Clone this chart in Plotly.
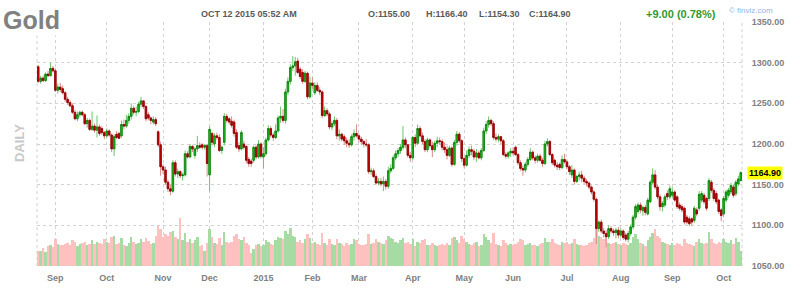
import numpy as np
import pandas as pd
import plotly.graph_objects as go

# ---------------- data ----------------
holidays = ["2014-09-01", "2014-11-27", "2014-12-25", "2015-01-01", "2015-01-19",
            "2015-02-16", "2015-04-03", "2015-05-25", "2015-07-03", "2015-09-07"]
days = pd.bdate_range("2014-08-21", "2015-10-12")
days = days[~days.isin(pd.to_datetime(holidays))]

opens = [
    1295,1277,1281,1278,1286,1284,1293,1290,1266,1270,
    1268,1263,1255,1251,1247,1239,1231,1236,1239,1236,
    1225,1229,1218,1222,1217,1221,1219,1214,1210,1216,
    1211,1194,1212,1213,1210,1224,1222,1229,1234,1244,
    1239,1240,1249,1253,1246,1236,1232,1227,1230,1215,
    1199,1172,1168,1153,1145,1142,1177,1163,1166,1161,
    1162,1188,1184,1197,1186,1194,1198,1199,1196,1198,
    1162,1213,1200,1210,1208,1192,1202,1234,1231,1228,
    1227,1214,1198,1194,1200,1197,1181,1179,1180,1196,
    1184,1200,1184,1188,1205,1219,1211,1208,1216,1232,
    1234,1229,1264,1277,1294,1296,1302,1292,1288,1277,
    1287,1258,1275,1263,1272,1266,1264,1235,1241,1237,
    1221,1225,1229,1210,1212,1209,1204,1201,1199,1209,
    1213,1210,1206,1203,1200,1199,1166,1167,1160,1152,
    1154,1151,1154,1148,1167,1170,1183,1188,1192,1196,
    1205,1199,1186,1183,1208,1201,1219,1210,1203,1193,
    1205,1198,1193,1201,1204,1203,1196,1193,1186,1195,
    1175,1202,1212,1204,1182,1174,1186,1193,1191,1184,
    1189,1183,1192,1216,1224,1229,1225,1208,1206,1209,
    1204,1187,1185,1189,1191,1196,1187,1177,1170,1168,
    1175,1181,1190,1183,1180,1185,1180,1176,1200,1203,
    1187,1180,1174,1175,1171,1181,1178,1172,1162,1168,
    1154,1160,1162,1158,1154,1152,1147,1141,1132,1096,
    1104,1093,1090,1086,1096,1093,1091,1094,1088,1093,
    1088,1083,1090,1098,1110,1117,1125,1118,1122,1114,
    1129,1153,1162,1147,1135,1123,1125,1139,1135,1137,
    1141,1135,1125,1123,1121,1110,1108,1108,1106,1119,
    1121,1131,1137,1133,1133,1153,1143,1139,1131,1119,
    1114,1131,1137,1141,1147,1139,1151,1155.0,
]
highs = [
    1297,1284,1284,1288,1290,1300,1296,1293,1274,1275,
    1272,1265,1258,1254,1250,1242,1240,1241,1241,1238,
    1232,1231,1240,1225,1235,1224,1222,1216,1219,1218,
    1213,1212,1216,1215,1229,1230,1236,1238,1250,1247,
    1246,1252,1258,1254,1248,1239,1234,1234,1233,1217,
    1203,1175,1172,1156,1150,1180,1180,1170,1168,1165,
    1192,1191,1200,1199,1196,1210,1202,1201,1200,1200,
    1222,1215,1213,1214,1212,1198,1238,1237,1233,1234,
    1230,1218,1202,1217,1204,1199,1184,1182,1198,1199,
    1205,1202,1196,1208,1223,1222,1214,1224,1235,1246,
    1243,1268,1282,1298,1308,1307,1306,1295,1292,1290,
    1289,1283,1282,1276,1276,1270,1266,1246,1244,1239,
    1228,1234,1232,1218,1214,1212,1208,1206,1212,1218,
    1224,1213,1209,1205,1206,1201,1171,1170,1163,1158,
    1158,1160,1157,1172,1175,1186,1192,1195,1200,1222,
    1208,1200,1190,1210,1212,1224,1222,1214,1206,1208,
    1207,1203,1204,1209,1208,1206,1202,1198,1198,1197,
    1205,1216,1215,1206,1184,1192,1197,1198,1194,1194,
    1192,1195,1220,1228,1234,1231,1228,1213,1212,1210,
    1206,1190,1191,1195,1196,1198,1189,1180,1174,1178,
    1184,1195,1192,1186,1188,1188,1183,1204,1207,1205,
    1189,1182,1178,1177,1186,1188,1181,1174,1174,1170,
    1162,1166,1167,1161,1157,1154,1149,1143,1134,1106,
    1107,1097,1094,1100,1099,1096,1097,1098,1096,1095,
    1091,1093,1101,1113,1126,1128,1128,1124,1125,1134,
    1156,1170,1168,1150,1138,1130,1138,1143,1149,1147,
    1143,1137,1128,1126,1123,1113,1111,1110,1124,1122,
    1142,1142,1140,1135,1158,1156,1146,1142,1133,1121,
    1136,1144,1146,1152,1150,1156,1161,1166.4,
]
lows = [
    1275,1274,1276,1276,1282,1283,1288,1264,1262,1264,
    1261,1252,1248,1245,1237,1229,1228,1233,1234,1223,
    1220,1216,1216,1214,1208,1210,1211,1206,1208,1209,
    1190,1185,1206,1206,1208,1218,1220,1225,1230,1236,
    1234,1238,1245,1243,1228,1229,1224,1224,1222,1196,
    1161,1163,1150,1141,1137,1140,1160,1158,1158,1155,
    1160,1182,1183,1190,1182,1190,1194,1193,1193,1160,
    1142,1198,1196,1205,1190,1188,1198,1226,1224,1220,
    1209,1194,1190,1192,1193,1176,1172,1172,1177,1181,
    1182,1182,1170,1185,1203,1208,1204,1206,1214,1226,
    1226,1225,1260,1273,1290,1284,1286,1280,1274,1275,
    1255,1256,1268,1260,1264,1260,1232,1233,1234,1218,
    1217,1222,1206,1204,1203,1199,1196,1195,1197,1204,
    1208,1202,1199,1196,1196,1163,1162,1158,1150,1149,
    1148,1142,1144,1145,1164,1168,1180,1184,1188,1193,
    1195,1183,1178,1180,1196,1199,1208,1200,1190,1190,
    1195,1184,1190,1196,1199,1192,1189,1181,1184,1172,
    1173,1198,1201,1178,1170,1172,1183,1186,1180,1178,
    1181,1180,1190,1212,1220,1222,1205,1203,1202,1200,
    1185,1182,1182,1184,1186,1185,1174,1167,1161,1165,
    1172,1179,1180,1176,1177,1178,1172,1174,1197,1185,
    1174,1171,1168,1168,1169,1176,1169,1162,1158,1150,
    1152,1155,1153,1151,1148,1144,1138,1129,1077,1092,
    1090,1085,1073,1083,1090,1087,1084,1084,1085,1082,
    1080,1079,1087,1095,1107,1114,1115,1112,1112,1112,
    1127,1150,1144,1132,1118,1117,1122,1131,1132,1134,
    1129,1120,1118,1116,1101,1101,1099,1100,1103,1111,
    1118,1128,1126,1118,1130,1140,1130,1126,1114,1105,
    1110,1128,1134,1138,1134,1136,1148,1154.3,
]
closes = [
    1277,1281,1278,1286,1284,1293,1290,1266,1270,1267,
    1263,1255,1251,1247,1239,1231,1236,1239,1236,1225,
    1229,1218,1222,1217,1221,1213,1214,1210,1216,1211,
    1194,1209,1208,1207,1224,1222,1229,1234,1244,1239,
    1240,1249,1253,1246,1231,1232,1229,1230,1225,1199,
    1172,1168,1153,1145,1142,1177,1163,1166,1161,1162,
    1188,1184,1197,1194,1194,1198,1196,1196,1198,1176,
    1218,1202,1210,1208,1192,1196,1234,1229,1227,1223,
    1213,1196,1194,1214,1196,1180,1176,1176,1196,1184,
    1200,1185,1188,1205,1219,1211,1208,1216,1232,1234,
    1229,1264,1277,1294,1296,1301,1288,1283,1277,1287,
    1258,1275,1272,1272,1266,1264,1235,1241,1237,1221,
    1225,1229,1210,1212,1206,1204,1201,1199,1209,1213,
    1210,1206,1203,1200,1199,1166,1167,1160,1152,1154,
    1151,1154,1148,1167,1170,1183,1188,1192,1196,1205,
    1199,1186,1183,1208,1201,1219,1210,1203,1193,1205,
    1198,1193,1201,1204,1203,1196,1193,1186,1195,1175,
    1202,1212,1204,1182,1174,1186,1193,1191,1184,1189,
    1183,1192,1216,1224,1229,1225,1208,1206,1209,1204,
    1187,1185,1189,1191,1189,1187,1177,1170,1168,1175,
    1181,1190,1183,1180,1185,1180,1176,1200,1203,1187,
    1177,1174,1172,1171,1181,1178,1172,1166,1168,1154,
    1160,1162,1158,1154,1152,1147,1141,1132,1096,1104,
    1093,1090,1086,1096,1093,1091,1094,1088,1093,1085,
    1083,1090,1098,1110,1123,1125,1119,1122,1116,1131,
    1153,1162,1147,1135,1123,1127,1135,1135,1145,1141,
    1131,1123,1121,1119,1104,1104,1102,1104,1121,1114,
    1138,1139,1129,1121,1155,1143,1133,1129,1117,1112,
    1133,1141,1143,1149,1137,1153,1157,1164.9,
]
volumes = [
    60,62,75,58,80,85,78,110,92,88,
    85,90,95,88,105,98,82,90,95,100,
    88,92,105,90,100,95,90,110,98,96,
    120,125,92,95,115,88,80,95,120,100,
    92,96,110,98,115,102,90,95,125,165,
    150,120,130,125,140,145,120,110,195,105,
    135,100,110,95,105,120,80,85,60,95,
    150,120,95,90,115,85,140,100,95,98,
    125,130,110,105,120,95,85,55,70,85,
    90,80,85,105,100,92,85,105,120,115,
    110,145,130,155,125,120,100,105,95,110,
    130,115,95,100,90,85,135,95,88,110,
    90,85,110,95,90,80,95,88,92,110,
    105,90,85,88,92,130,90,95,110,100,
    95,90,105,125,115,110,100,95,105,115,
    95,100,90,110,80,100,95,105,110,88,
    85,95,88,80,85,90,85,95,88,115,
    120,105,95,125,110,100,90,85,95,100,
    80,85,130,120,105,95,135,90,85,80,
    105,95,88,90,85,92,100,110,105,85,
    90,95,88,85,80,90,95,115,100,100,
    110,95,90,85,100,95,100,92,95,110,
    90,85,88,80,85,95,100,115,150,125,
    120,110,130,95,90,95,100,90,85,95,
    90,85,95,120,130,110,95,90,80,105,
    120,135,150,125,115,100,95,90,85,95,
    85,95,90,80,110,95,90,85,80,100,
    110,95,90,95,140,110,95,90,100,95,
    110,100,95,105,90,115,100,60,
]

title = "Gold"
stamp = "OCT 12 2015 05:52 AM"
quote_open, quote_high, quote_low, quote_close = 1155.00, 1166.40, 1154.30, 1164.90
change, change_pct = 9.00, 0.78
price_ticks = [1050, 1100, 1150, 1200, 1250, 1300, 1350]

# ---------------- derived ----------------
n = len(closes)
days = days[:n]
x = np.arange(n)
o = np.array(opens, float)
h = np.array(highs, float)
l = np.array(lows, float)
c = np.array(closes, float)
up = c >= o
body_hi = np.maximum(o, c)
body_lo = np.minimum(o, c)

month_idx = [i for i in range(1, n) if days[i].month != days[i - 1].month]
month_txt = ["2015" if days[i].month == 1 else days[i].strftime("%b") for i in month_idx]

# ---------------- layout helpers ----------------
W, H = 800, 294
PL, PR, PT, PB = 37, 742, 22, 266


def px(v):
    return (v - PL) / (PR - PL)


def py(v):
    return (PB - v) / (PB - PT)


GRID = "#d2d2d2"
FONT = "Arial, Liberation Sans, sans-serif"


def b(s):
    return "<b>" + s + "</b>"


fig = go.Figure()

# volume (primary hidden axis, drawn underneath)
fig.add_trace(go.Bar(
    x=x, y=volumes, width=1.0,
    marker=dict(color=["#a6dba3" if u else "#ffc0c0" for u in up], line=dict(width=0)),
    yaxis="y", hoverinfo="skip",
))

# wicks
fig.add_trace(go.Candlestick(
    x=x, open=o, high=h, low=l, close=c, yaxis="y2",
    increasing=dict(line=dict(color="#6fc46f", width=1), fillcolor="#6fc46f"),
    decreasing=dict(line=dict(color="#d88a8a", width=1), fillcolor="#d88a8a"),
    whiskerwidth=0, hoverinfo="skip",
))
# bodies
fig.add_trace(go.Candlestick(
    x=x, open=o, high=body_hi, low=body_lo, close=c, yaxis="y2",
    increasing=dict(line=dict(color="#0a7d0a", width=0.8), fillcolor="#22c322"),
    decreasing=dict(line=dict(color="#8a0000", width=0.8), fillcolor="#d00000"),
    whiskerwidth=0,
))

HDR = "#5a5a5a"
annotations = [
    dict(text=b(title), x=px(1), y=py(20), xanchor="left", yanchor="middle",
         font=dict(size=25, color="#808080", family=FONT), bgcolor="white", borderpad=1),
    dict(text=b(stamp), x=px(249), y=py(14), xanchor="center", yanchor="middle",
         font=dict(size=9, color=HDR, family=FONT)),
    dict(text=b(f"O:{quote_open:.2f}"), x=px(366), y=py(14), xanchor="left", yanchor="middle",
         font=dict(size=9, color=HDR, family=FONT)),
    dict(text=b(f"H:{quote_high:.2f}"), x=px(424), y=py(14), xanchor="left", yanchor="middle",
         font=dict(size=9, color=HDR, family=FONT)),
    dict(text=b(f"L:{quote_low:.2f}"), x=px(477), y=py(14), xanchor="left", yanchor="middle",
         font=dict(size=9, color=HDR, family=FONT)),
    dict(text=b(f"C:{quote_close:.2f}"), x=px(527), y=py(14), xanchor="left", yanchor="middle",
         font=dict(size=9, color=HDR, family=FONT)),
    dict(text=b(f"+{change:.2f} ({change_pct:.2f}%)"), x=px(644), y=py(14), xanchor="left",
         yanchor="middle", font=dict(size=11, color="#2f9a2f", family=FONT)),
    dict(text="© finviz.com", x=px(727), y=py(11), xanchor="left", yanchor="middle",
         font=dict(size=8, color="#8db6e3", family=FONT)),
    dict(text=b("DAILY"), x=px(19), y=py(143), xanchor="center", yanchor="middle", textangle=-90,
         font=dict(size=13, color="#c8c8c8", family=FONT)),
    dict(text=b(f"{closes[-1]:.2f}"), x=1, xref="paper", y=closes[-1], yref="y2", xanchor="left",
         yanchor="middle", xshift=5, bgcolor="#ffff00", borderpad=1,
         font=dict(size=9, color="#000000", family=FONT)),
]
for a in annotations:
    a.setdefault("xref", "paper")
    a.setdefault("yref", "paper")
    a["showarrow"] = False

fig.update_layout(
    width=W, height=H,
    margin=dict(l=PL, r=W - PR, t=PT, b=H - PB, pad=0),
    paper_bgcolor="white", plot_bgcolor="white",
    showlegend=False, bargap=0,
    font=dict(family=FONT),
    xaxis=dict(
        range=[-0.5, n - 0.5], tickmode="array", tickvals=month_idx,
        ticktext=[b(t) for t in month_txt],
        showgrid=True, gridcolor=GRID, griddash="dot", gridwidth=1, zeroline=False,
        showline=False, ticks="outside", ticklen=3, tickcolor="rgba(0,0,0,0)",
        tickfont=dict(size=9, color="#808080", family=FONT),
        rangeslider=dict(visible=False), fixedrange=True,
    ),
    yaxis=dict(range=[0, 1000], visible=False, showgrid=False, fixedrange=True),
    yaxis2=dict(
        overlaying="y", side="right", range=[1050, 1350], tickmode="array",
        tickvals=price_ticks, ticktext=[b(f"{v:.2f}") for v in price_ticks],
        showgrid=True, gridcolor=GRID, griddash="dot", gridwidth=1, zeroline=False,
        showline=False, ticks="outside", ticklen=7, tickcolor="rgba(0,0,0,0)",
        tickfont=dict(size=9, color="#808080", family=FONT), fixedrange=True,
    ),
    annotations=annotations,
    shapes=[
        dict(type="line", xref="paper", yref="paper", x0=0, x1=0, y0=0, y1=1,
             line=dict(color=GRID, width=1, dash="dot"), layer="below"),
        dict(type="line", xref="paper", yref="paper", x0=1, x1=1, y0=0, y1=1,
             line=dict(color=GRID, width=1, dash="dot"), layer="below"),
    ],
    boxgap=0.12,
)

fig.write_html("out.html")
